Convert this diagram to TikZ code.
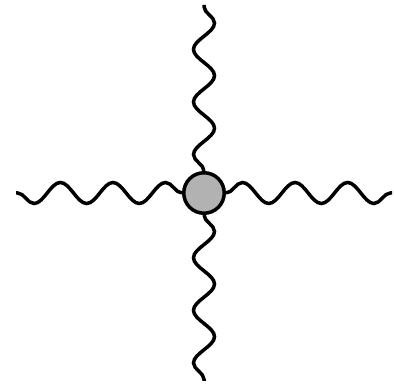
\documentclass[tikz,border=0pt]{standalone}
\usetikzlibrary{decorations.pathmorphing,backgrounds}

\begin{document}
\begin{tikzpicture}[x=1pt, y=-1pt, wave/.style={line width=3.5pt, decorate, decoration={snake, segment length=52.6pt, amplitude=10.5pt}}, vtx/.style={circle, draw, line width=3.5pt, fill=black!30, minimum size=40.5pt, inner sep=0pt}]
	\useasboundingbox (0,0) rectangle (394,390);
	\node[vtx] (v) at (204,193) {};
	\coordinate (l) at (16,193);
	\coordinate (r) at (392,193);
	\coordinate (t) at (204,5);
	\coordinate (b) at (204,381);
	\begin{pgfonlayer}{background}
	\draw[wave, decoration={amplitude=-10.5pt}] (v.west) -- (l);
	\draw[wave] (v.east) -- (r);
	\draw[wave] (v.north) -- (t);
	\draw[wave] (v.south) -- (b);
	\end{pgfonlayer}
\end{tikzpicture}
\end{document}
